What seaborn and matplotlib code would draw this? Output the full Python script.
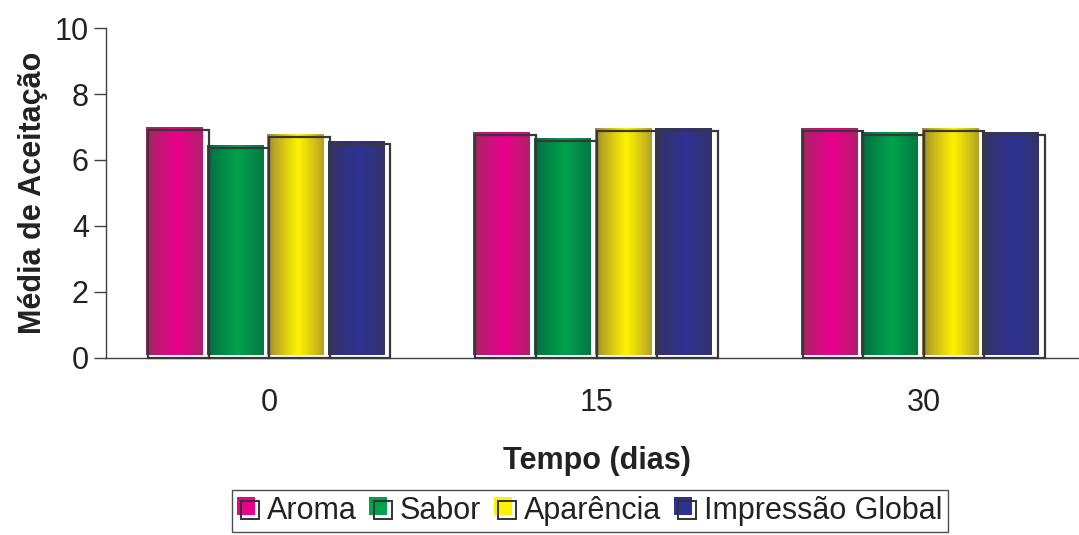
import numpy as np
import pandas as pd
import matplotlib
matplotlib.use("Agg")
import matplotlib.pyplot as plt
import matplotlib.transforms as mtransforms
from matplotlib.patches import Rectangle
from matplotlib.legend_handler import HandlerBase
from matplotlib.colors import to_rgb
import seaborn as sns

# Mean acceptance scores per attribute over storage time
tempos = ["0", "15", "30"]
atributos = ["Aroma", "Sabor", "Aparência", "Impressão Global"]
aroma = [6.92, 6.77, 6.87]
sabor = [6.35, 6.57, 6.77]
aparencia = [6.70, 6.87, 6.87]
impressao = [6.50, 6.87, 6.77]

# Bright centre and dark edge of each bar's cylinder-style shading
cores_centro = ["#ea008b", "#00a24b", "#fff200", "#2e3192"]
cores_borda = ["#9c2a60", "#006a40", "#9a8432", "#34345f"]

df = pd.DataFrame({
    "Tempo": np.repeat(tempos, len(atributos)),
    "Atributo": atributos * len(tempos),
    "Media": np.array([aroma, sabor, aparencia, impressao]).T.ravel(),
})

sns.set_style("white")
plt.rcParams["font.family"] = ["Liberation Sans", "DejaVu Sans"]
texto = "#222222"
linha = "#404040"
fs = 22

fig = plt.figure(figsize=(10.79, 5.35), dpi=100)
ax = fig.add_axes([105.5 / 1079, (535 - 357.5) / 535, 982 / 1079, (357.5 - 28.3) / 535])

# Dark outlines: the bars themselves, full slot width
sns.barplot(data=df, x="Tempo", y="Media", hue="Atributo", order=tempos,
            hue_order=atributos, palette=cores_centro, saturation=1,
            width=0.74, gap=0, edgecolor="#383838", linewidth=1.6,
            legend=False, ax=ax)


def gradiente(centro, borda, n=64):
    c = np.array(to_rgb(centro))
    b = np.array(to_rgb(borda))
    t = np.linspace(0, 1, n)
    # brightest a little right of the middle, dark at both sides
    peso = np.clip(1 - np.abs(t - 0.55) / 0.55, 0, 1) ** 0.8
    return (b[None, :] * (1 - peso[:, None]) + c[None, :] * peso[:, None])[None, :, :]


# Shaded fill sits slightly up and to the left of each outline
desloc = mtransforms.ScaledTranslation(-2 / 100, 2 / 100, fig.dpi_scale_trans)
for i, cont in enumerate(ax.containers):
    img = gradiente(cores_centro[i], cores_borda[i])
    for bar in cont:
        x0, w, h = bar.get_x(), bar.get_width(), bar.get_height()
        bar.set_facecolor("none")
        bar.set_zorder(3)
        bar.set_clip_on(False)
        ax.imshow(img, extent=[x0, x0 + 0.937 * w, 0, h], aspect="auto",
                  interpolation="bilinear", zorder=2,
                  transform=ax.transData + desloc)

ax.set_xlim(-0.5, 2.5)
ax.set_ylim(0, 10)
ax.set_yticks(np.arange(0, 11, 2))
ax.set_xticks(range(len(tempos)))
ax.set_xticklabels(tempos)
ax.set_xticks([-0.5, 0.5, 1.5, 2.5], minor=True)
ax.tick_params(axis="x", which="major", length=0, pad=22, labelsize=fs, labelcolor=texto)
ax.tick_params(axis="x", which="minor", length=9, width=1, color=linha, direction="out")
ax.tick_params(axis="y", length=9, width=1, color=linha, direction="out",
               labelsize=fs, labelcolor=texto, pad=3)
ax.tick_params(bottom=True, left=True)
for s in ["top", "right"]:
    ax.spines[s].set_visible(False)
for s in ["left", "bottom"]:
    ax.spines[s].set_color(linha)
    ax.spines[s].set_linewidth(1)

ax.set_xlabel("Tempo (dias)", fontsize=fs, fontweight="bold", color=texto, labelpad=20)
ax.set_ylabel("Média de Aceitação", fontsize=fs, fontweight="bold", color=texto, labelpad=5)


class MarcadorSombreado(HandlerBase):
    def create_artists(self, legend, orig_handle, xdescent, ydescent, width,
                       height, fontsize, trans):
        lado = 13
        x = -xdescent + (width - lado) / 2
        y = -ydescent + (height - lado) / 2
        cheio = Rectangle((x - 1.5, y + 2), lado, lado, facecolor=orig_handle.get_facecolor(),
                          edgecolor="none", transform=trans)
        contorno = Rectangle((x + 1.5, y - 1), lado, lado, fill=False,
                             edgecolor="#333333", linewidth=1.4, transform=trans)
        return [cheio, contorno]


alcas = [Rectangle((0, 0), 1, 1, facecolor=c) for c in cores_centro]
leg = fig.legend(alcas, atributos, loc="upper center",
                 bbox_to_anchor=(590 / 1079, 1 - 490 / 535), ncol=4,
                 handler_map={Rectangle: MarcadorSombreado()},
                 fontsize=fs, frameon=True, fancybox=False, edgecolor="#222222",
                 handlelength=0.65, handletextpad=0.3, columnspacing=0.45,
                 borderpad=0.2, borderaxespad=0)
leg.get_frame().set_linewidth(1)
for t in leg.get_texts():
    t.set_color(texto)

fig.savefig("out.png", dpi=100, facecolor="white")
